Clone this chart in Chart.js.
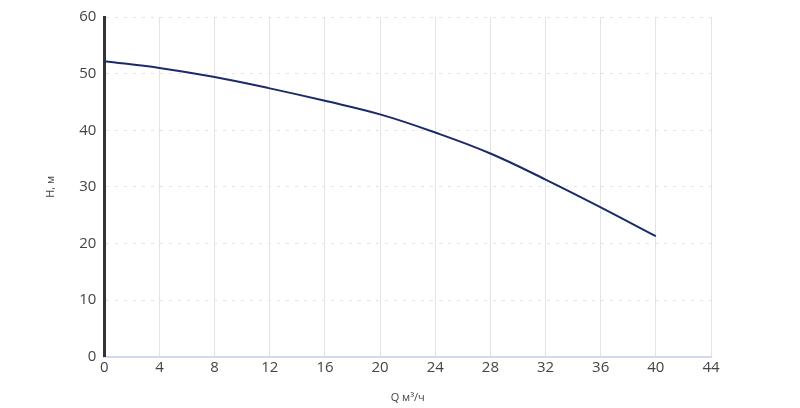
<!DOCTYPE html>
<html><head><meta charset="utf-8">
<script src="https://cdn.jsdelivr.net/npm/chart.js@4"></script>
<style>html,body{margin:0;background:#fff}#w{width:800px;height:408px}</style>
</head><body><div id="w"><canvas id="c"></canvas></div>
<script>
const qValues=[0,4,8,12,16,20,24,28,32,36,40];
const hValues=[52.2,51.0,49.4,47.4,45.2,42.8,39.6,35.9,31.3,26.4,21.3];
const xTitle='Q м³/ч', yTitle='H, м';
new Chart(document.getElementById('c'),{
type:'line',
data:{datasets:[{data:qValues.map((q,i)=>({x:q,y:hValues[i]})),borderColor:'#1b2a6b',borderWidth:2,pointRadius:0,tension:0.4,fill:false}]},
options:{responsive:true,maintainAspectRatio:false,animation:false,
layout:{padding:{left:40,right:89,top:12,bottom:0}},
plugins:{legend:{display:false},tooltip:{enabled:false}},
scales:{
x:{type:'linear',min:0,max:44,ticks:{stepSize:4,color:'#444',font:{family:'Open Sans',size:15},padding:2},
 grid:{color:'#e3e3e3',drawTicks:false},border:{color:'#cfd8ef',width:2},
 title:{display:true,text:xTitle,color:'#444',font:{family:'Open Sans',size:11},padding:{top:12}}},
y:{min:0,max:60,ticks:{stepSize:10,color:'#444',font:{family:'Open Sans',size:15},padding:8},
 grid:{color:'#e3e3e3',drawTicks:false},border:{color:'#333',width:3,dash:[3,6]},
 title:{display:true,text:yTitle,color:'#444',font:{family:'Open Sans',size:11},padding:{bottom:14}}}
}}});
</script></body></html>
